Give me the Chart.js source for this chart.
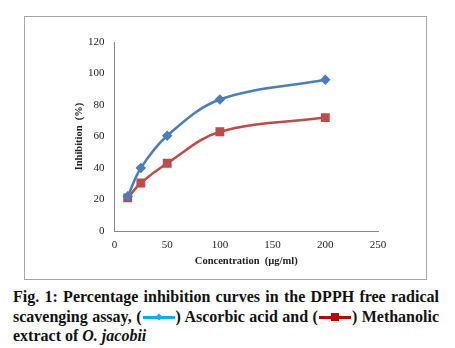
<!DOCTYPE html>
<html>
<head>
<meta charset="utf-8">
<script src="https://cdn.jsdelivr.net/npm/chart.js@4"></script>
<style>
  body { margin: 0; background: #fff; width: 455px; height: 348px; position: relative; overflow: hidden; }
  #box { position: absolute; left: 24px; top: 16px; width: 401px; height: 262px; border: 1px solid #a6a6a6; }
  #caption {
    position: absolute; left: 13px; top: 287px; width: 426px;
    font: bold 16px "Liberation Serif", serif; line-height: 19.5px;
    text-align: justify; color: #111;
  }
  .key { display: inline-block; position: relative; width: 34px; height: 10px; vertical-align: 0px; }
  .key .ln { position: absolute; left: 1px; right: 1px; top: 4px; height: 3px; }
  .key .mk { position: absolute; left: 50%; top: 50%; }
  .blue .ln { background: #00b0f0; }
  .blue .mk { width: 5px; height: 5px; background: #00b0f0; transform: translate(-50%, -50%) rotate(45deg); }
  .red .ln { background: #c00000; }
  .red .mk { width: 8px; height: 8px; background: #c00000; transform: translate(-50%, -50%); }
</style>
</head>
<body>
<div id="box"><canvas id="chart" width="401" height="262"></canvas></div>
<div id="caption">Fig. 1: Percentage inhibition curves in the DPPH free radical scavenging assay, (<span class="key blue"><span class="ln"></span><span class="mk"></span></span>) Ascorbic acid and (<span class="key red"><span class="ln"></span><span class="mk"></span></span>) Methanolic extract of <i>O. jacobii</i></div>
<script>
// concentrations in µg/ml and % inhibition for each extract
const concentrations = [12.5, 25, 50, 100, 200];
const ascorbicAcid   = [22, 40, 60.5, 83.5, 96];
const methanolic     = [21, 30.5, 43, 63, 72];
const yTicks = [0, 20, 40, 60, 80, 100, 120];
const xTicks = [0, 50, 100, 150, 200, 250];

const serif = "'Liberation Serif', 'Times New Roman', serif";
const toPoints = ys => concentrations.map((x, i) => ({ x: x, y: ys[i] }));

new Chart(document.getElementById('chart').getContext('2d'), {
  type: 'line',
  data: {
    datasets: [
      {
        label: 'Ascorbic acid',
        data: toPoints(ascorbicAcid),
        borderColor: '#4a7ebb',
        backgroundColor: '#4a7ebb',
        borderWidth: 2.5,
        pointStyle: 'rectRot',
        pointRadius: 3.5,
        tension: 0.35
      },
      {
        label: 'Methanolic extract',
        data: toPoints(methanolic),
        borderColor: '#be4b48',
        backgroundColor: '#be4b48',
        borderWidth: 2.5,
        pointStyle: 'rect',
        pointRadius: 4.5,
        tension: 0.35
      }
    ]
  },
  options: {
    responsive: false,
    animation: false,
    layout: { padding: { left: 46, top: 25, right: 48, bottom: 7 } },
    plugins: { legend: { display: false }, tooltip: { enabled: false } },
    scales: {
      x: {
        type: 'linear',
        min: 0, max: 250,
        afterBuildTicks: s => { s.ticks = xTicks.map(v => ({ value: v })); },
        afterFit: s => { s.height = 41; },
        grid: { display: false, drawTicks: false },
        border: { display: true, color: '#868686', width: 1 },
        ticks: { color: '#222', padding: 8, font: { family: serif, size: 11 } },
        title: {
          display: true, text: 'Concentration  (\u00b5g/ml)', color: '#222',
          padding: { top: 0, bottom: 4 },
          font: { family: serif, size: 10.5, weight: 'bold' }
        }
      },
      y: {
        min: 0, max: 120,
        afterBuildTicks: s => { s.ticks = yTicks.map(v => ({ value: v })); },
        afterFit: s => { s.width = 43.5; },
        grid: { display: false, drawTicks: false },
        border: { display: true, color: '#868686', width: 1 },
        ticks: { color: '#222', padding: 10, font: { family: serif, size: 11 } },
        title: {
          display: true, text: 'Inhibition  (%)', color: '#222',
          padding: { top: 2, bottom: 0 },
          font: { family: serif, size: 10.5, weight: 'bold' }
        }
      }
    }
  }
});
</script>
</body>
</html>
